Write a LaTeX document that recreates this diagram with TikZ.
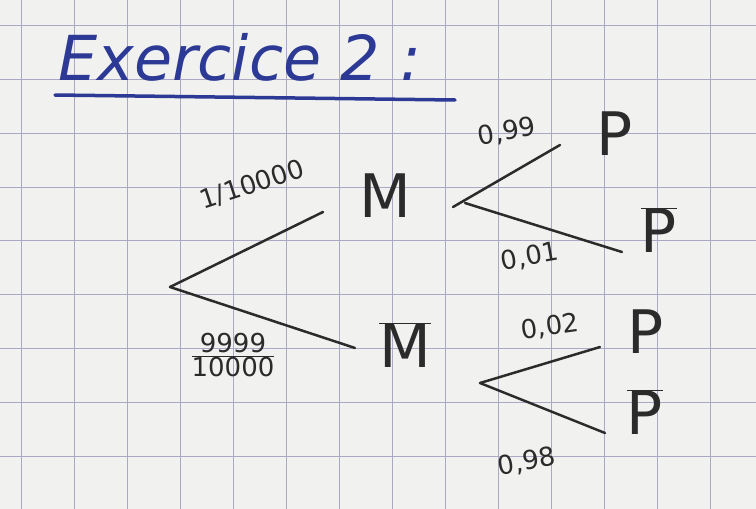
\documentclass[tikz,border=0pt]{standalone}
\usepackage{fontspec}
\setmainfont{DejaVu Sans}
\definecolor{paper}{HTML}{F1F1F0}
\definecolor{gridc}{HTML}{A9A9C6}
\definecolor{pen}{HTML}{2B2B2B}
\definecolor{ink}{HTML}{2C3A96}
\tikzset{
  branch/.style={draw=pen, line width=2.5pt, line cap=round},
  letter/.style={text=pen, inner sep=0pt, font=\fontsize{60}{60}\selectfont},
  prob/.style={text=pen, inner sep=0pt, font=\fontsize{26}{26}\selectfont},
}
\begin{document}
\begin{tikzpicture}[x=1pt,y=-1pt]
\useasboundingbox (0,0) rectangle (756,509);
\fill[paper] (0,0) rectangle (756,509);
% grid
\foreach \gx in {21,74,127,180,233,286,339,392,445,498,551,604,657,710}
  \draw[gridc, line width=1pt] (\gx,0) -- (\gx,509);
\foreach \gy in {25,79,133,187,240,294,348,402,456}
  \draw[gridc, line width=1pt] (0,\gy) -- (756,\gy);
% title
\node[text=ink, anchor=base west, inner sep=0pt, font=\fontsize{62}{62}\selectfont\itshape] (title) at (58,80) {Exercice 2 :};
\coordinate (ulA) at (55,95);
\coordinate (ulB) at (455,100);
\draw[ink, line width=3.5pt, line cap=round] (ulA) -- (ulB);
% tree nodes
\coordinate (root) at (170,287);
\coordinate (mEnd) at (323,212);
\coordinate (mbEnd) at (355,348);
\node[letter] (M) at (385,196) {M};
\node[letter] (Mb) at (405,345) {$\overline{\mbox{M}}$};
\coordinate (m1) at (453,207);
\coordinate (m2) at (465,203);
\coordinate (pEnd1) at (560,145);
\coordinate (pbEnd1) at (622,252);
\node[letter] (P1) at (615,134) {P};
\node[letter] (Pb1) at (659,230) {$\overline{\mbox{P}}$};
\coordinate (mb1) at (480,383);
\coordinate (pEnd2) at (600,347);
\coordinate (pbEnd2) at (605,433);
\node[letter] (P2) at (646,332) {P};
\node[letter] (Pb2) at (645,412) {$\overline{\mbox{P}}$};
% branches
\draw[branch] (root) -- (mEnd);
\draw[branch] (root) -- (mbEnd);
\draw[branch] (m1) -- (pEnd1);
\draw[branch] (m2) -- (pbEnd1);
\draw[branch] (mb1) -- (pEnd2);
\draw[branch] (mb1) -- (pbEnd2);
% probabilities
\node[prob, rotate=18] (l1) at (252,185) {1/10000};
\node[prob] (l2) at (233,355) {$\frac{\mbox{9999}}{\mbox{10000}}$};
\node[prob, rotate=10] (l3) at (507,132) {0,99};
\node[prob, rotate=10] (l4) at (530,257) {0,01};
\node[prob, rotate=8] (l5) at (550,327) {0,02};
\node[prob, rotate=10] (l6) at (527,462) {0,98};
\end{tikzpicture}
\end{document}
